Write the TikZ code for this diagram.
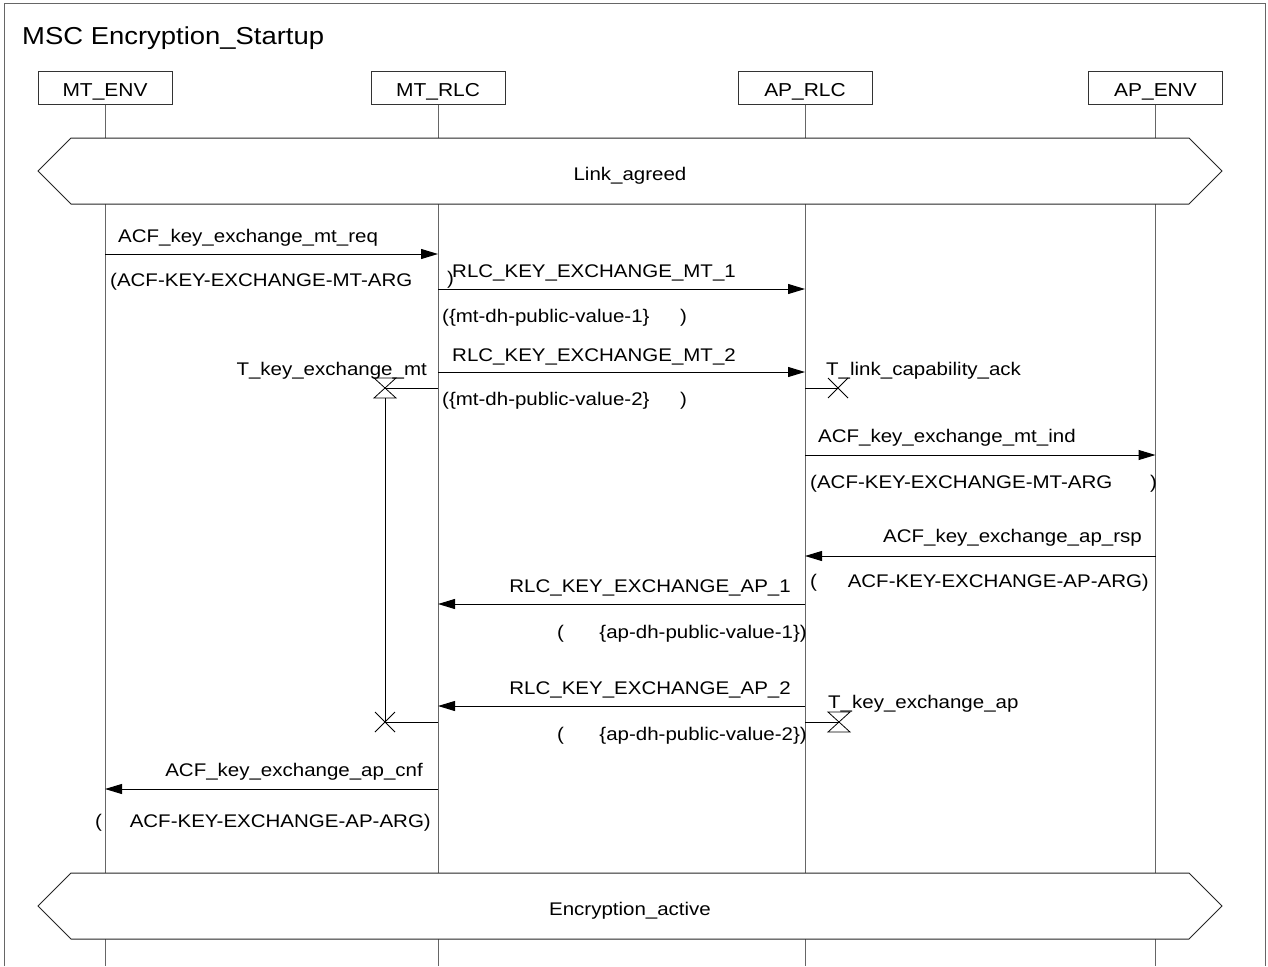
\documentclass[tikz,border=0pt]{standalone}
\usepackage{fontspec}
\setmainfont{Liberation Sans}[FakeStretch=1.12]
\usetikzlibrary{arrows.meta}
\tikzset{
  lbl/.style={inner sep=0pt, font=\fontsize{18.3}{22}\selectfont},
  headbox/.style={draw=black!80, line width=1pt, minimum width=134pt, minimum height=33pt, inner sep=0pt,
    text height=17pt, text depth=0pt, font=\fontsize{18.7}{22}\selectfont},
  life/.style={draw=black!60, line width=1pt},
  msg/.style={draw=black, line width=1pt, -{Triangle[length=17pt,width=10pt]}},
  tline/.style={draw=black, line width=1pt},
  cond/.style={draw=black!85, line width=1pt},
  hglass/.pic={\draw[black, line width=0.8pt] (-11,-10) -- (11,-10) -- (-11,10) -- (11,10) -- cycle;},
  tcross/.pic={\draw[black, line width=0.8pt] (-10,-10) -- (10,10) (-10,10) -- (10,-10);}
}
\begin{document}
\begin{tikzpicture}[x=1pt,y=-1pt]
\useasboundingbox (0,0) rectangle (1268,966);
% frame
\draw[black!60, line width=1pt] (4,966) -- (4,4) -- (1265,4) -- (1265,966);
\node[anchor=base west, inner sep=0pt, font=\fontsize{24.5}{28}\selectfont] (title) at (22,45) {MSC Encryption\_Startup};
% instance heads
\node[headbox] (mtenv) at (105,87.5) {MT\_ENV};
\node[headbox] (mtrlc) at (438,87.5) {MT\_RLC};
\node[headbox] (aprlc) at (805,87.5) {AP\_RLC};
\node[headbox] (apenv) at (1155.5,87.5) {AP\_ENV};
% lifelines
\foreach \n in {mtenv,mtrlc,aprlc,apenv}{
  \draw[life] (\n.south) -- (\n |- 0,138);
  \draw[life] (\n |- 0,204) -- (\n |- 0,873);
  \draw[life] (\n |- 0,939) -- (\n |- 0,966);
}
% conditions
\draw[cond, fill=white] (38,171) -- (71,138) -- (1189,138) -- (1222,171) -- (1189,204) -- (71,204) -- cycle;
\node[lbl, anchor=base] (linkagreed) at (630,180) {Link\_agreed};
\draw[cond, fill=white] (38,906) -- (71,873) -- (1189,873) -- (1222,906) -- (1189,939) -- (71,939) -- cycle;
\node[lbl, anchor=base] (encactive) at (630,915) {Encryption\_active};
% messages
\draw[msg] (mtenv |- 0,254) -- (mtrlc |- 0,254);
\node[lbl, anchor=base west] (m1a) at (118,242) {ACF\_key\_exchange\_mt\_req};
\node[lbl, anchor=base west] (m1b) at (110,286) {(ACF-KEY-EXCHANGE-MT-ARG};
\node[lbl, anchor=base west] (m1c) at (447,284) {)};

\draw[msg] (mtrlc |- 0,289) -- (aprlc |- 0,289);
\node[lbl, anchor=base west] (m2a) at (452,277) {RLC\_KEY\_EXCHANGE\_MT\_1};
\node[lbl, anchor=base west] (m2b) at (442,322) {(\{mt-dh-public-value-1\}};
\node[lbl, anchor=base west] (m2c) at (680,322) {)};

\draw[msg] (mtrlc |- 0,372) -- (aprlc |- 0,372);
\node[lbl, anchor=base west] (m3a) at (452,361) {RLC\_KEY\_EXCHANGE\_MT\_2};
\node[lbl, anchor=base west] (m3b) at (442,405) {(\{mt-dh-public-value-2\}};
\node[lbl, anchor=base west] (m3c) at (680,405) {)};

\draw[msg] (aprlc |- 0,455) -- (apenv |- 0,455);
\node[lbl, anchor=base west] (m4a) at (818,442) {ACF\_key\_exchange\_mt\_ind};
\node[lbl, anchor=base west] (m4b) at (810,488) {(ACF-KEY-EXCHANGE-MT-ARG};
\node[lbl, anchor=base west] (m4c) at (1150,488) {)};

\draw[msg] (apenv |- 0,556) -- (aprlc |- 0,556);
\node[lbl, anchor=base east] (m5a) at (1142,542) {ACF\_key\_exchange\_ap\_rsp};
\node[lbl, anchor=base west] (m5b) at (810,587) {(};
\node[lbl, anchor=base east] (m5c) at (1149,587) {ACF-KEY-EXCHANGE-AP-ARG)};

\draw[msg] (aprlc |- 0,604) -- (mtrlc |- 0,604);
\node[lbl, anchor=base east] (m6a) at (791,592) {RLC\_KEY\_EXCHANGE\_AP\_1};
\node[lbl, anchor=base west] (m6b) at (557,638) {(};
\node[lbl, anchor=base east] (m6c) at (807,638) {\{ap-dh-public-value-1\})};

\draw[msg] (aprlc |- 0,706) -- (mtrlc |- 0,706);
\node[lbl, anchor=base east] (m7a) at (791,694) {RLC\_KEY\_EXCHANGE\_AP\_2};
\node[lbl, anchor=base west] (m7b) at (557,740) {(};
\node[lbl, anchor=base east] (m7c) at (807,740) {\{ap-dh-public-value-2\})};

\draw[msg] (mtrlc |- 0,789) -- (mtenv |- 0,789);
\node[lbl, anchor=base east] (m8a) at (423,776) {ACF\_key\_exchange\_ap\_cnf};
\node[lbl, anchor=base west] (m8b) at (95,827) {(};
\node[lbl, anchor=base east] (m8c) at (431,827) {ACF-KEY-EXCHANGE-AP-ARG)};

% timers
\coordinate (tmt) at (385,388);
\coordinate (tmtstop) at (385,722);
\coordinate (tlink) at (838,388);
\coordinate (tap) at (839,722);
\draw[tline] (mtrlc |- tmt) -- (tmt);
\pic at (tmt) {hglass};
\draw[tline] ([yshift=-10pt]tmt) -- (tmtstop);
\draw[tline] (mtrlc |- tmtstop) -- (tmtstop);
\pic at (tmtstop) {tcross};
\node[lbl, anchor=base east] (tmtl) at (427,375) {T\_key\_exchange\_mt};

\draw[tline] (aprlc |- tlink) -- (tlink);
\pic at (tlink) {tcross};
\node[lbl, anchor=base west] (tlinkl) at (826,375) {T\_link\_capability\_ack};

\draw[tline] (aprlc |- tap) -- (tap);
\pic at (tap) {hglass};
\node[lbl, anchor=base west] (tapl) at (828,708) {T\_key\_exchange\_ap};
\end{tikzpicture}
\end{document}
